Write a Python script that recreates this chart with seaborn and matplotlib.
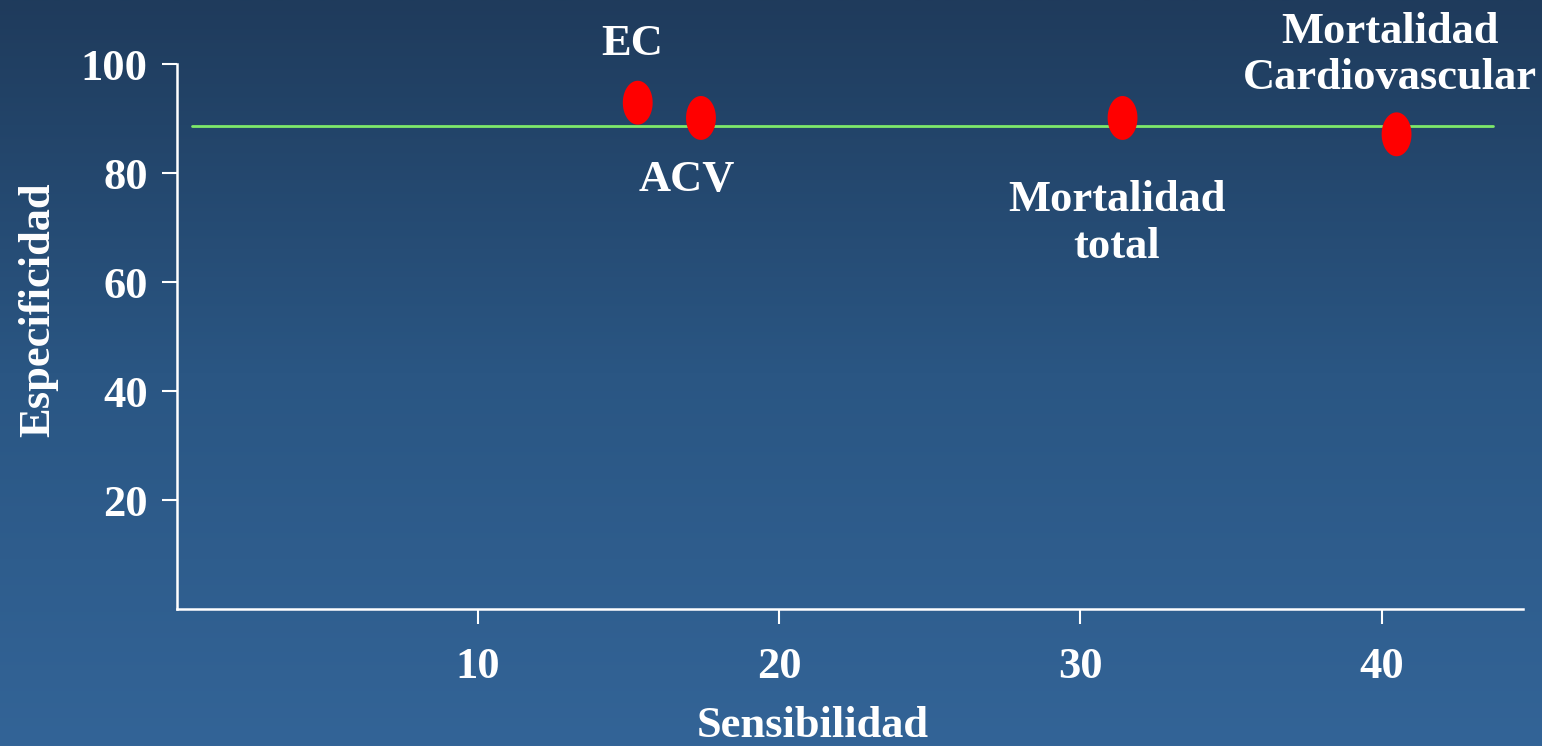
import numpy as np
import pandas as pd
import matplotlib
matplotlib.use("Agg")
import matplotlib.pyplot as plt
from matplotlib.path import Path
from matplotlib.colors import LinearSegmentedColormap
import seaborn as sns

# Sensitivity / specificity of each outcome
outcomes = ["EC", "ACV", "Mortalidad\ntotal", "Mortalidad\nCardiovascular"]
sensibilidad = [15.3, 17.4, 31.4, 40.5]
especificidad = [92.9, 90.1, 90.1, 87.1]
reference_specificity = 88.6
reference_span = [0.5, 43.7]

x_ticks = [10, 20, 30, 40]
y_ticks = [20, 40, 60, 80, 100]

df = pd.DataFrame({"outcome": outcomes, "sens": sensibilidad, "spec": especificidad})

sns.set_theme(style="white")
plt.rcParams["font.family"] = ["Liberation Serif", "DejaVu Serif"]
plt.rcParams["font.weight"] = "bold"

FS = 32

fig = plt.figure(figsize=(15.42, 7.46), dpi=100)

# vertical navy-to-steel-blue backdrop
bg = fig.add_axes([0, 0, 1, 1], zorder=-10)
cmap = LinearSegmentedColormap.from_list("bg", ["#1f3b5c", "#2a5683", "#336497"])
bg.imshow(np.linspace(0, 1, 256).reshape(-1, 1), aspect="auto", cmap=cmap,
          extent=[0, 1, 0, 1])
bg.set_axis_off()

ax = fig.add_axes([0.1148, 0.1836, 0.8729, 0.7306])
ax.set_facecolor("none")

# oval markers, taller than wide
t = np.linspace(0, 2 * np.pi, 60)
oval = Path(np.column_stack([0.68 * np.cos(t), np.sin(t)]))

ax.plot(reference_span, [reference_specificity] * 2, color="#7ee86a", lw=2, zorder=2)
sns.scatterplot(data=df, x="sens", y="spec", marker=oval, s=1000,
                color="#ff0000", edgecolor="none", ax=ax, zorder=3, legend=False)

label_offsets = {
    "EC": (-4, 42),
    "ACV": (-10, -45),
    "Mortalidad\ntotal": (-4, -76),
    "Mortalidad\nCardiovascular": (-5, 57),
}
for name, xv, yv in zip(outcomes, sensibilidad, especificidad):
    ax.annotate(name, (xv, yv), xytext=label_offsets[name], textcoords="offset points",
                ha="center", va="center", color="white", fontsize=FS,
                fontweight="bold", linespacing=1.2)

ax.set_xlim(0, 44.7)
ax.set_ylim(0, 100)
ax.set_xticks(x_ticks)
ax.set_yticks(y_ticks)
ax.tick_params(axis="both", colors="white", labelcolor="white", labelsize=FS,
               length=11, width=1.5, direction="out", bottom=True, left=True)
ax.tick_params(axis="x", pad=16)
ax.tick_params(axis="y", pad=10)
for lab in ax.get_xticklabels() + ax.get_yticklabels():
    lab.set_fontweight("bold")

for side in ["top", "right"]:
    ax.spines[side].set_visible(False)
for side in ["left", "bottom"]:
    ax.spines[side].set_color("white")
    ax.spines[side].set_linewidth(1.8)

ax.set_xlabel("Sensibilidad", color="white", fontsize=FS, fontweight="bold")
ax.set_ylabel("Especificidad", color="white", fontsize=FS, fontweight="bold")
ax.xaxis.set_label_coords(0.472, -0.178)
ax.yaxis.set_label_coords(-0.088, 0.55)

fig.savefig("out.png", dpi=100)
